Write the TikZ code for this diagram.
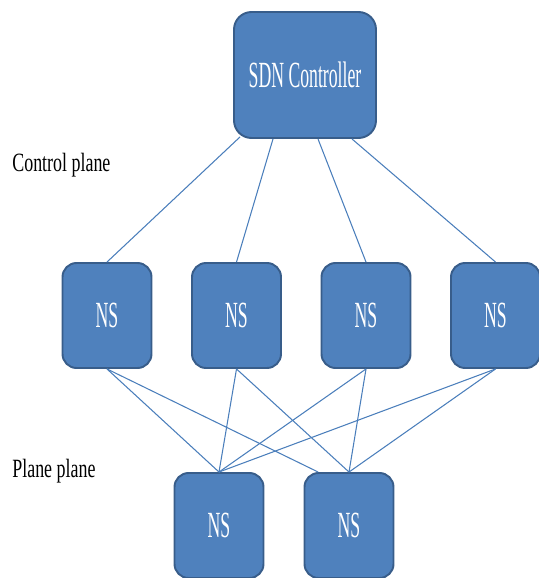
\documentclass[tikz,border=0pt]{standalone}
\usepackage{fontspec}
\setmainfont{Liberation Serif}
\newfontfamily\boxfont[FakeStretch=0.48]{Liberation Serif}
\newfontfamily\planefont[FakeStretch=0.68]{Liberation Serif}
\usetikzlibrary{calc}
\definecolor{boxblue}{HTML}{4F81BD}
\definecolor{boxedge}{HTML}{385D8A}
\definecolor{linkblue}{HTML}{4A7EBB}
\begin{document}
\begin{tikzpicture}[
  ctrl/.style={rectangle, draw=boxedge, fill=boxblue, line width=1.1pt, rounded corners=10pt,
               minimum width=2.84cm, minimum height=2.52cm, text=white,
               font=\boxfont\fontsize{21}{23}\selectfont, inner sep=0pt},
  switch/.style={rectangle, draw=boxedge, fill=boxblue, line width=1.1pt, rounded corners=8pt,
                 minimum width=1.78cm, minimum height=2.1cm, text=white,
                 font=\boxfont\fontsize{21}{23}\selectfont, inner sep=0pt},
  plane/.style={anchor=west, font=\planefont\fontsize{15}{17}\selectfont, inner sep=0pt},
  link/.style={draw=linkblue, line width=0.6pt}
]
  \useasboundingbox (0,0) rectangle (10.78,-11.56);

  % ===== Plane labels =====
  \node[plane] (cplane) at (0.24,-3.3) {Control plane};
  \node[plane] (pplane) at (0.24,-9.42) {Plane plane};

  % ===== SDN controller =====
  \node[ctrl] (ctl) at (6.10,-1.50) {SDN Controller};

  % ===== Upper switches =====
  \node[switch] (t1) at (2.14,-6.31) {NS};
  \node[switch] (t2) at (4.73,-6.31) {NS};
  \node[switch] (t3) at (7.32,-6.31) {NS};
  \node[switch] (t4) at (9.91,-6.31) {NS};

  % ===== Lower switches =====
  \node[switch] (b1) at (4.38,-10.51) {NS};
  \node[switch] (b2) at (6.98,-10.51) {NS};

  % ===== Controller links =====
  \draw[link] ($(ctl.south)+(-1.30,0.04)$) -- (t1.north);
  \draw[link] ($(ctl.south)+(-0.64,0)$) -- (t2.north);
  \draw[link] ($(ctl.south)+(0.26,0)$) -- (t3.north);
  \draw[link] ($(ctl.south)+(0.94,0)$) -- (t4.north);

  % ===== Data links =====
  \foreach \t in {t1,t2,t3,t4}
    \draw[link] (\t.south) -- (b1.north);
  \draw[link] (t1.south) -- (b2.120);
  \foreach \t in {t2,t3,t4}
    \draw[link] (\t.south) -- (b2.north);
\end{tikzpicture}
\end{document}
